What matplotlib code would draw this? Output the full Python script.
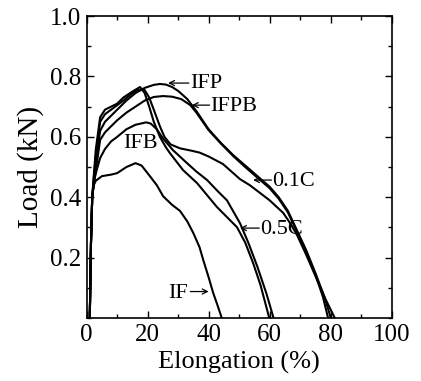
import matplotlib
matplotlib.use("Agg")
import matplotlib.pyplot as plt
from matplotlib.ticker import MultipleLocator

# ---- data ----
IF_x = [1.0, 1.4, 1.8, 2.3, 3, 5, 8, 10, 13, 16, 18, 20.8, 23, 25.1, 28, 30.6, 33, 35, 37, 38.3, 40, 41.5, 43, 44.3]
IF_y = [0, 0.25, 0.40, 0.44, 0.455, 0.47, 0.475, 0.48, 0.50, 0.513, 0.505, 0.469, 0.44, 0.403, 0.375, 0.355, 0.32, 0.281, 0.235, 0.19, 0.135, 0.083, 0.04, 0]

IFB_x = [1.0, 1.4, 1.8, 2.3, 3, 4.4, 6, 8, 10, 13, 16, 19.5, 21, 23, 25, 28.3, 32.9, 36, 39.5, 43, 46, 50.3, 53, 56, 59, 61.3]
IFB_y = [0, 0.25, 0.40, 0.45, 0.48, 0.53, 0.56, 0.585, 0.60, 0.625, 0.64, 0.648, 0.644, 0.625, 0.595, 0.556, 0.513, 0.485, 0.457, 0.42, 0.39, 0.314, 0.25, 0.17, 0.08, 0]

C05_x = [1.0, 1.4, 1.8, 2.3, 3, 4.4, 6, 8, 10, 12, 15, 17.5, 19, 20.5, 22, 24, 26, 27.3, 31.6, 36.2, 42.7, 49.3, 52, 54.6, 57, 59.9]
C05_y = [0, 0.25, 0.40, 0.47, 0.56, 0.665, 0.69, 0.70, 0.71, 0.73, 0.75, 0.765, 0.745, 0.70, 0.65, 0.60, 0.565, 0.546, 0.49, 0.447, 0.368, 0.301, 0.25, 0.182, 0.11, 0]

C01_x = [1.0, 1.4, 1.8, 2.3, 3, 4.4, 6, 8, 10, 12, 15, 17, 19, 20.5, 22, 24, 25.5, 27.5, 30.6, 34, 37, 40, 44.7, 50.3, 53.5, 56.9, 60, 64.5, 67, 69, 72, 75, 78, 81.4]
C01_y = [0, 0.25, 0.40, 0.46, 0.54, 0.65, 0.675, 0.69, 0.705, 0.72, 0.745, 0.755, 0.755, 0.73, 0.69, 0.635, 0.60, 0.575, 0.562, 0.555, 0.548, 0.535, 0.51, 0.46, 0.44, 0.414, 0.39, 0.348, 0.31, 0.275, 0.21, 0.14, 0.07, 0]

IFP_x = [1.0, 1.4, 1.8, 2.3, 3, 4.4, 6, 8, 10, 13, 16, 19, 22, 24, 26, 28, 30, 33, 36, 40, 44, 48, 52, 56, 60, 63, 66, 69, 72, 75, 78, 80.1]
IFP_y = [0, 0.25, 0.40, 0.45, 0.52, 0.62, 0.65, 0.67, 0.69, 0.72, 0.745, 0.762, 0.772, 0.775, 0.773, 0.765, 0.752, 0.725, 0.685, 0.625, 0.58, 0.54, 0.505, 0.47, 0.435, 0.40, 0.355, 0.29, 0.225, 0.15, 0.07, 0]

IFPB_x = [1.0, 1.4, 1.8, 2.3, 3, 4.4, 6, 8, 10, 13, 16, 19, 22, 25, 28, 31, 34, 36, 40, 44, 48, 52, 56, 60, 63, 66, 69, 72, 75, 77.5, 79.2]
IFPB_y = [0, 0.25, 0.40, 0.44, 0.49, 0.59, 0.615, 0.635, 0.655, 0.68, 0.70, 0.72, 0.732, 0.735, 0.733, 0.725, 0.705, 0.68, 0.622, 0.578, 0.537, 0.50, 0.465, 0.43, 0.395, 0.35, 0.285, 0.22, 0.145, 0.07, 0]

curves = [(IF_x, IF_y), (IFB_x, IFB_y), (C05_x, C05_y), (C01_x, C01_y), (IFP_x, IFP_y), (IFPB_x, IFPB_y)]

# labels: text, text position, arrow start, arrow tip (None = no arrow)
labels = [
    ("IFP", (33.9, 0.775), (33.5, 0.778), (26.7, 0.778)),
    ("IFPB", (40.6, 0.700), (40.3, 0.705), (34.5, 0.705)),
    ("IFB", (12.0, 0.578), None, None),
    ("0.1C", (60.8, 0.452), (60.6, 0.457), (54.6, 0.457)),
    ("0.5C", (57.0, 0.293), (56.6, 0.298), (50.3, 0.298)),
    ("IF", (26.7, 0.080), (34.0, 0.088), (40.0, 0.088)),
]

xticks = [0, 20, 40, 60, 80, 100]
yticks = [0.2, 0.4, 0.6, 0.8, 1.0]

plt.rcParams['font.family'] = ['Liberation Serif', 'DejaVu Serif']

fig = plt.figure(figsize=(4.21, 3.81), dpi=100)
ax = fig.add_axes([0.206, 0.165, 0.724, 0.793])

for xs, ys in curves:
    ax.plot(xs, ys, color='black', lw=1.5, solid_joinstyle='round')

for txt, tpos, astart, atip in labels:
    ax.text(tpos[0], tpos[1], txt, ha='left', va='center', fontsize=16)
    if astart is not None:
        ax.annotate('', xy=atip, xytext=astart,
                    arrowprops=dict(arrowstyle='->', lw=0.9, color='black',
                                    shrinkA=0, shrinkB=0, mutation_scale=9))

ax.set_xlim(0, 100)
ax.set_ylim(0, 1.0)
ax.set_xticks(xticks)
ax.set_xticklabels([str(v) for v in xticks])
ax.set_yticks(yticks)
ax.set_yticklabels([f"{v:.1f}" for v in yticks])
ax.xaxis.set_minor_locator(MultipleLocator(10))
ax.yaxis.set_minor_locator(MultipleLocator(0.1))
ax.tick_params(which='both', direction='in', top=True, right=True, labelsize=18, width=1.0)
ax.tick_params(which='major', length=5, pad=4)
ax.tick_params(which='minor', length=3)
for s in ax.spines.values():
    s.set_linewidth(1.2)

ax.set_xlabel("Elongation (%)", fontsize=19, labelpad=4)
ax.set_ylabel("Load (kN)", fontsize=21, labelpad=4)

fig.savefig("out.png", dpi=100)
